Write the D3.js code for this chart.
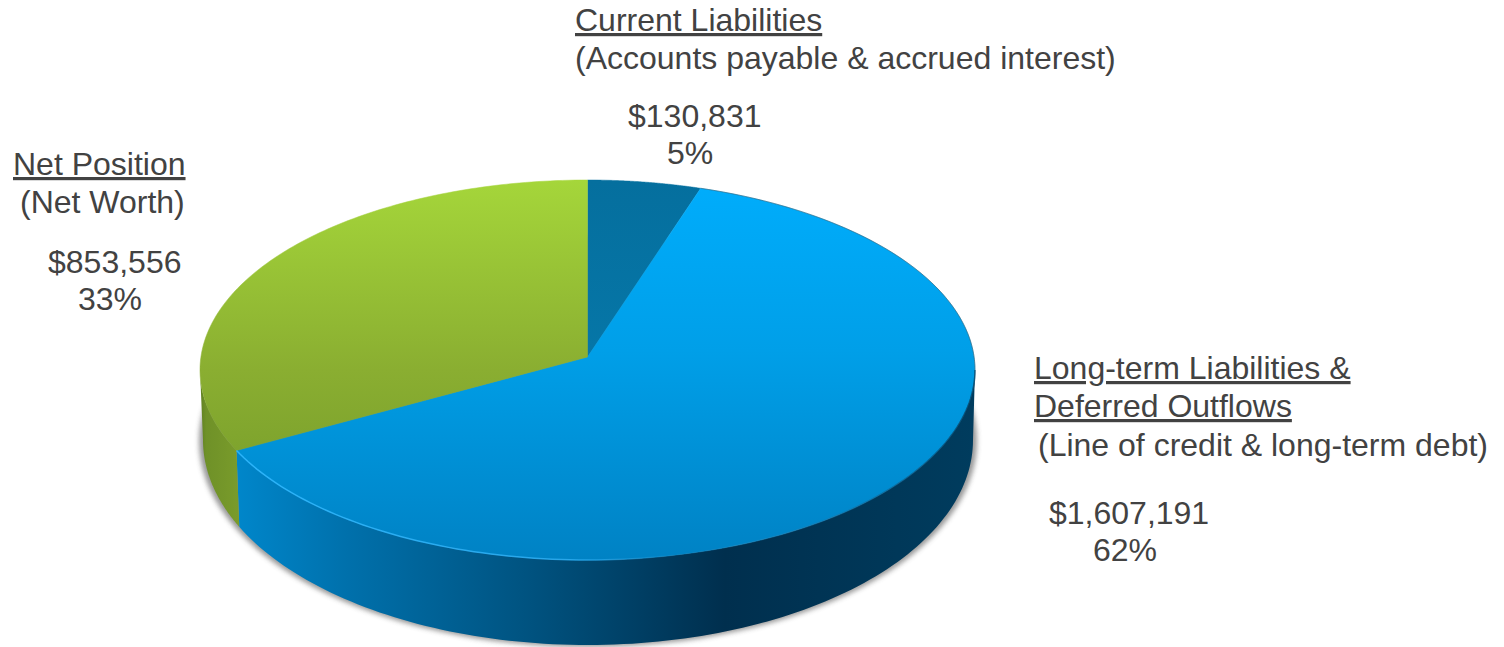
<!DOCTYPE html>
<html lang="en">
<head>
<meta charset="UTF-8">
<title>Net position pie</title>
<script src="https://d3js.org/d3.v7.min.js"></script>
<style>
  html, body { margin: 0; padding: 0; background: #fff; }
  svg { display: block; }
  text { font-family: "Liberation Sans", Arial, sans-serif; font-size: 32px; fill: #424242; }
</style>
</head>
<body>
<svg id="chart" width="1504" height="647"></svg>
<script>
// data
const categories = ["Current Liabilities", "Long-term Liabilities", "Net Position"];
const values = [130831, 1607191, 853556];
const percents = ["5%", "62%", "33%"];

const topFills = ["url(#topTeal)", "url(#topBlue)", "url(#topGreen)"];
const wallFills = ["#04587f", "url(#wallBlue)", "url(#wallGreen)"];

const width = 1504, height = 647;

// top ellipse and the extruded bottom ellipse
const top_ = { cx: 587.5, cy: 370, rx: 387.5, ry: 190 };
const bot = { cx: 588, cy: 440, rx: 385, ry: 205 };
// how far the apex sits above the ellipse centre (perspective), unit circle space
const apexShift = 13 / top_.ry;

const svg = d3.select("#chart");
const defs = svg.append("defs");

function gradient(id, horizontal, from, to, stops) {
  const g = defs.append("linearGradient").attr("id", id).attr("gradientUnits", "userSpaceOnUse");
  if (horizontal) g.attr("x1", from).attr("x2", to).attr("y1", 0).attr("y2", 0);
  else g.attr("x1", 0).attr("x2", 0).attr("y1", from).attr("y2", to);
  stops.forEach(s => g.append("stop").attr("offset", s[0]).attr("stop-color", s[1]).attr("stop-opacity", s[2] === undefined ? 1 : s[2]));
}
gradient("topGreen", false, 180, 560, [[0, "#a5d63a"], [0.5, "#8aae31"], [1, "#6f9628"]]);
gradient("topBlue", false, 180, 560, [[0, "#00adfc"], [0.45, "#009fe8"], [1, "#0082c4"]]);
gradient("topTeal", false, 180, 370, [[0, "#056f9e"], [1, "#0677a8"]]);
gradient("wallBlue", true, 238, 975, [[0, "#0086ca"], [0.15, "#0070ab"], [0.4, "#00527f"], [0.66, "#002f4e"], [1, "#003c5e"]]);
gradient("wallGreen", true, 200, 241, [[0, "#5f7f22"], [0.15, "#6f9128"], [1, "#7a9c2b"]]);
gradient("rim", true, 238, 975, [[0, "#2fb8ff", 0.9], [0.45, "#2fb0f5", 0.8], [0.6, "#2fb0f5", 0], [1, "#00304e", 0.7]]);

const blur = defs.append("filter").attr("id", "soft")
  .attr("x", "-5%").attr("y", "-5%").attr("width", "110%").attr("height", "110%");
blur.append("feGaussianBlur").attr("stdDeviation", 2.5);

const xTop = d3.scaleLinear().domain([-1, 1]).range([top_.cx - top_.rx, top_.cx + top_.rx]);
const yTop = d3.scaleLinear().domain([-1, 1]).range([top_.cy + top_.ry, top_.cy - top_.ry]);
const xBot = d3.scaleLinear().domain([-1, 1]).range([bot.cx - bot.rx, bot.cx + bot.rx]);
const yBot = d3.scaleLinear().domain([-1, 1]).range([bot.cy + bot.ry, bot.cy - bot.ry]);

// angle on the true circle -> point on the tilted disc, keeps the rim a circle
function project(a) {
  const s = Math.sin(a), c = Math.cos(a), k = 1 + apexShift * c;
  return [s * Math.sqrt(1 - apexShift * apexShift) / k, (c + apexShift) / k];
}
const topPoint = a => { const p = project(a); return [xTop(p[0]), yTop(p[1])]; };
const botPoint = a => {
  const u = project(a)[0];
  return [xBot(u), yBot(-Math.sqrt(Math.max(0, 1 - u * u)))];
};
const samples = (a0, a1) => d3.range(0, 121).map(i => a0 + (a1 - a0) * i / 120);
const line = d3.line();

const arcs = d3.pie().sort(null)(values);
const frontStart = Math.acos(-apexShift);
const frontEnd = 2 * Math.PI - frontStart;

// soft shadow under the disc
svg.append("ellipse")
  .attr("cx", bot.cx).attr("cy", bot.cy + 1)
  .attr("rx", bot.rx + 4).attr("ry", bot.ry + 1)
  .attr("fill", "#555").attr("opacity", 0.6)
  .attr("filter", "url(#soft)");

// side walls, only for the part of each slice facing us
arcs.forEach((d, i) => {
  const a0 = Math.max(d.startAngle, frontStart), a1 = Math.min(d.endAngle, frontEnd);
  if (a1 <= a0) return;
  const edge = samples(a0, a1);
  const pts = edge.map(topPoint).concat(edge.slice().reverse().map(botPoint));
  svg.append("path").attr("d", line(pts) + "Z").attr("fill", wallFills[i]);
});

// top faces
arcs.forEach((d, i) => {
  const apex = [xTop(0), yTop(apexShift)];
  const pts = [apex].concat(samples(d.startAngle, d.endAngle).map(topPoint));
  svg.append("path").attr("d", line(pts) + "Z").attr("fill", topFills[i])
    .attr("stroke", topFills[i]).attr("stroke-width", 0.5);
});

// thin rim highlight along the front edge
const blue = arcs[1];
svg.append("path")
  .attr("d", line(samples(frontStart, blue.endAngle).map(topPoint)))
  .attr("fill", "none").attr("stroke", "url(#rim)").attr("stroke-width", 1.5);

// faint dark line on the back right edge
svg.append("path")
  .attr("d", line(samples(blue.startAngle, frontStart).map(topPoint)))
  .attr("fill", "none").attr("stroke", "#444").attr("stroke-opacity", 0.45).attr("stroke-width", 1);

// labels
const fmt = d3.format("$,");
const labelBlocks = [
  { i: 0, lines: [
    { t: categories[0], x: 575, y: 31, u: true },
    { t: "(Accounts payable & accrued interest)", x: 575, y: 69 },
    { t: fmt(values[0]), x: 628, y: 127 },
    { t: percents[0], x: 667, y: 164 } ] },
  { i: 1, lines: [
    { t: "Long-term Liabilities &", x: 1034, y: 379, u: true },
    { t: "Deferred Outflows", x: 1034, y: 417, u: true },
    { t: "(Line of credit & long-term debt)", x: 1038, y: 456 },
    { t: fmt(values[1]), x: 1049, y: 524 },
    { t: percents[1], x: 1093, y: 561 } ] },
  { i: 2, lines: [
    { t: categories[2], x: 13, y: 175, u: true },
    { t: "(Net Worth)", x: 20, y: 213 },
    { t: fmt(values[2]), x: 48, y: 273 },
    { t: percents[2], x: 78, y: 310 } ] }
];
labelBlocks.forEach(b => b.lines.forEach(l => {
  svg.append("text").attr("x", l.x).attr("y", l.y)
    .attr("text-decoration", l.u ? "underline" : null)
    .text(l.t);
}));
</script>
</body>
</html>
